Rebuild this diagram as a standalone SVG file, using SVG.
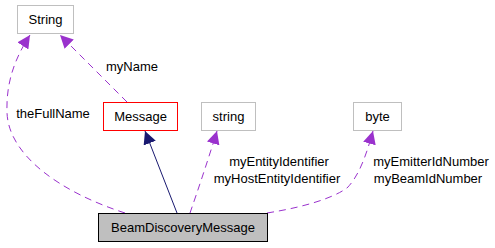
<svg xmlns="http://www.w3.org/2000/svg" width="495" height="248" viewBox="0 0 495 248">
<style>
text{font-family:"Liberation Sans",Arial,sans-serif;font-size:13px;fill:#000;text-anchor:middle}
.box{fill:#fff;stroke:#bfbfbf;stroke-width:1}
.dep{fill:none;stroke:#9a32cd;stroke-width:1;stroke-dasharray:7,5}
.inh{fill:none;stroke:#191970;stroke-width:1}
</style>
<defs>
<marker id="ap" viewBox="0 0 10 10" refX="10" refY="5" markerWidth="13" markerHeight="13" markerUnits="userSpaceOnUse" orient="auto"><path d="M0,0 L10,5 L0,10 z" fill="#9a32cd"/></marker>
<marker id="an" viewBox="0 0 10 10" refX="10" refY="5" markerWidth="13" markerHeight="13" markerUnits="userSpaceOnUse" orient="auto"><path d="M0,0 L10,5 L0,10 z" fill="#191970"/></marker>
</defs>
<g id="connectors">
<path class="dep" d="M127,102 L60,35" marker-end="url(#ap)"/>
<text x="132" y="71">myName</text>
<path class="dep" d="M125,213 C60,192 8,155 7,112 C6,82 15,58 30,35" marker-end="url(#ap)"/>
<text x="53" y="118">theFullName</text>
<path class="inh" d="M177,213 L145,131" marker-end="url(#an)"/>
<path class="dep" d="M190,213 C198,190 208,160 217,131" marker-end="url(#ap)"/>
<text x="279" y="166">myEntityIdentifier</text>
<text x="277" y="183">myHostEntityIdentifier</text>
<path class="dep" d="M267,213 C305,207 333,198 347,188 C360,175 367,152 373,131" marker-end="url(#ap)"/>
<text x="431" y="166">myEmitterIdNumber</text>
<text x="428" y="183">myBeamIdNumber</text>
</g>
<g id="String"><rect class="box" x="17.5" y="5.5" width="56" height="28"/><text x="45.5" y="24">String</text></g>
<g id="Message"><rect x="103.5" y="102.5" width="74" height="28" fill="#fff" stroke="#ff0000"/><text x="140.5" y="121">Message</text></g>
<g id="string"><rect class="box" x="201.5" y="102.5" width="54" height="28"/><text x="228.5" y="121">string</text></g>
<g id="byte"><rect class="box" x="353.5" y="102.5" width="48" height="28"/><text x="377.5" y="121">byte</text></g>
<g id="BeamDiscoveryMessage"><rect x="98.5" y="213.5" width="169" height="28" fill="#bfbfbf" stroke="#000"/><text x="183" y="232">BeamDiscoveryMessage</text></g>
</svg>
